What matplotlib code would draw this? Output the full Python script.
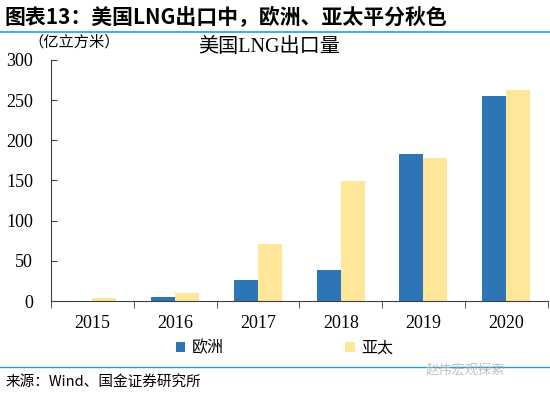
import numpy as np
import matplotlib
matplotlib.use("Agg")
import matplotlib.pyplot as plt
from matplotlib.lines import Line2D

plt.rcParams['font.family'] = ['Liberation Serif', 'Noto Sans CJK SC', 'DejaVu Sans']

years = ['2015', '2016', '2017', '2018', '2019', '2020']
europe = [0, 5, 26, 39, 183, 255]
asia = [4, 10, 71, 149, 178, 263]
yticks = [0, 50, 100, 150, 200, 250, 300]

blue = '#2E75B6'
yellow = '#FFE699'
cjk = ['Noto Sans CJK SC', 'DejaVu Sans']
mixed = ['Liberation Serif', 'Noto Sans CJK SC']

fig = plt.figure(figsize=(5.5, 3.94), dpi=100)
ax = fig.add_axes([0.0927, 0.236, 0.903, 0.612])

x = np.arange(len(years))
w = 0.29
ax.bar(x - w / 2, europe, w, color=blue, label='欧洲')
ax.bar(x + w / 2, asia, w, color=yellow, label='亚太')

ax.set_xlim(-0.5, len(years) - 0.5)
ax.set_ylim(0, 300)
ax.set_yticks(yticks)
ax.set_yticklabels([str(t) for t in yticks], fontsize=13)
ax.set_xticks(x)
ax.set_xticklabels(years, fontsize=13)
ax.tick_params(axis='x', length=0, pad=10)
ax.set_xticks(np.arange(len(years) + 1) - 0.5, minor=True)
ax.tick_params(axis='x', which='minor', length=5, direction='out', color='#404040')
ax.tick_params(axis='y', length=4, direction='in', color='#404040', pad=13)
for s in ['top', 'right']:
    ax.spines[s].set_visible(False)
ax.spines['left'].set_color('#404040')
ax.spines['bottom'].set_color('#404040')

fig.text(0.49, 0.88, '美国LNG出口量', fontsize=14.5, family=mixed, ha='center', va='center')
fig.text(0.052, 0.893, '（亿立方米）', fontsize=11, family=cjk, ha='left', va='center')

leg = ax.legend(loc='upper center', bbox_to_anchor=(0.47, -0.10), ncol=2, frameon=False,
                prop={'family': cjk, 'size': 11.5}, handlelength=0.6, handleheight=0.6,
                columnspacing=7.6, handletextpad=0.4)

fig.text(0.008, 0.957, '图表13：美国LNG出口中，欧洲、亚太平分秋色', fontsize=15,
         fontweight='bold', family=cjk, ha='left', va='center')
fig.add_artist(Line2D([0, 1], [0.919, 0.919], color='#1E9FE0', lw=1.2))
fig.add_artist(Line2D([0, 1], [0.068, 0.068], color='#1E9FE0', lw=1.0))
fig.text(0.01, 0.032, '来源：Wind、国金证券研究所', fontsize=10.5, family=cjk,
         ha='left', va='center')
fig.text(0.918, 0.06, '赵伟宏观探索', fontsize=9.5, family=cjk, color='#B0B0B0',
         ha='right', va='center', alpha=0.8)

fig.savefig('out.png', dpi=100)
